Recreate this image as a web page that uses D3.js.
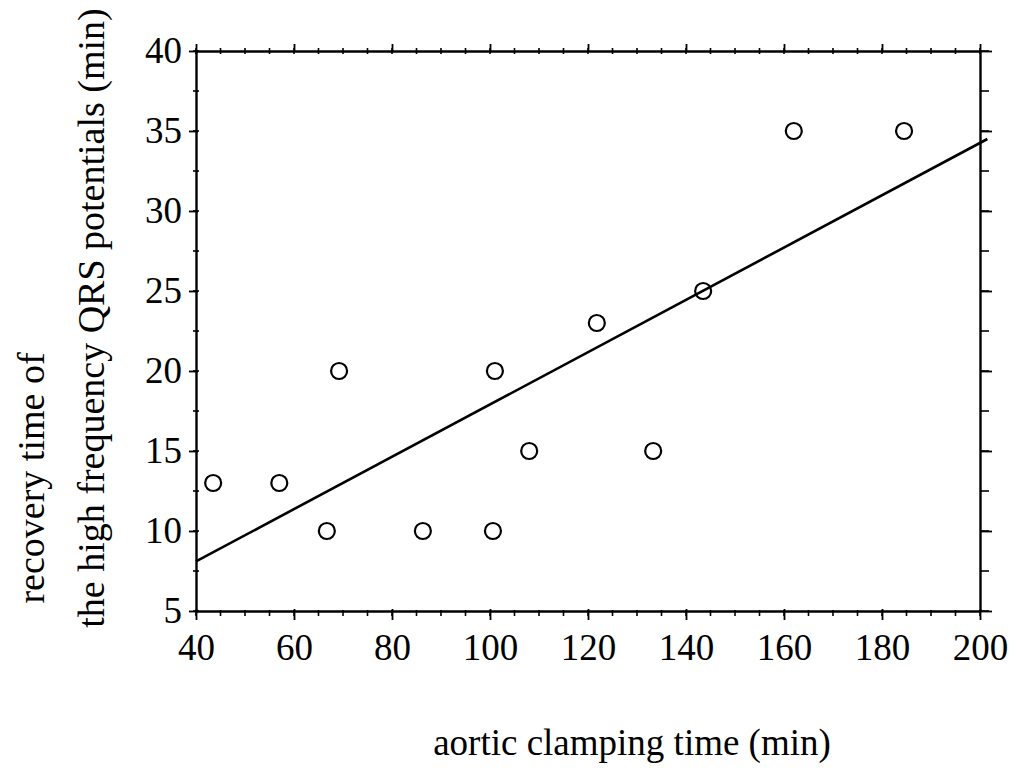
<!DOCTYPE html>
<html>
<head>
<meta charset="utf-8">
<script src="https://cdn.jsdelivr.net/npm/d3@7"></script>
<style>
  body { margin: 0; background: #fff; }
  svg { display: block; }
  svg text { font-family: "Liberation Serif", "Times New Roman", Times, serif; }
</style>
</head>
<body>
<div id="chart"></div>
<script>
// data
var clampTime = [43.5, 57, 66.7, 69.2, 86.3, 100.6, 101, 108, 121.8, 133.3, 143.5, 162, 184.5];
var recoveryTime = [13, 13, 10, 20, 10, 10, 20, 15, 23, 15, 25, 35, 35];
var fitX = [40, 201.5];
var fitY = [8.1, 34.5];
var xTicks = [40, 60, 80, 100, 120, 140, 160, 180, 200];
var yTicks = [5, 10, 15, 20, 25, 30, 35, 40];

var margin = {top: 51, right: 42, bottom: 162, left: 196},
    width = 1022 - margin.left - margin.right,
    height = 773 - margin.top - margin.bottom;

var svg = d3.select("#chart").append("svg")
    .attr("width", 1022)
    .attr("height", 773);

var g = svg.append("g")
    .attr("transform", `translate(${margin.left},${margin.top})`);

var x = d3.scaleLinear().domain([40, 200]).range([0, width]);
var y = d3.scaleLinear().domain([5, 40]).range([height, 0]);

var xMinor = d3.range(40, 201, 5);
var yMinor = d3.range(5, 40.1, 2.5);

//minor ticks
g.selectAll(".xminor-b").data(xMinor).enter().append("line")
    .attr("x1", d => x(d)).attr("x2", d => x(d))
    .attr("y1", height - 1).attr("y2", height + 5)
    .attr("stroke", "#000").attr("stroke-width", 1.6);
g.selectAll(".xminor-t").data(xMinor).enter().append("line")
    .attr("x1", d => x(d)).attr("x2", d => x(d))
    .attr("y1", -3).attr("y2", 3)
    .attr("stroke", "#000").attr("stroke-width", 1.6);
g.selectAll(".yminor-l").data(yMinor).enter().append("line")
    .attr("x1", -3).attr("x2", 3)
    .attr("y1", d => y(d)).attr("y2", d => y(d))
    .attr("stroke", "#000").attr("stroke-width", 1.6);
g.selectAll(".yminor-r").data(yMinor).enter().append("line")
    .attr("x1", width).attr("x2", width + 9)
    .attr("y1", d => y(d)).attr("y2", d => y(d))
    .attr("stroke", "#000").attr("stroke-width", 1.6);

//axes
var xAxis = g.append("g")
    .attr("transform", `translate(0,${height})`)
    .call(d3.axisBottom(x).tickValues(xTicks).tickSize(9).tickPadding(14).tickSizeOuter(0));
var yAxis = g.append("g")
    .call(d3.axisLeft(y).tickValues(yTicks).tickSize(7).tickPadding(7).tickSizeOuter(0));
var xTop = g.append("g")
    .call(d3.axisTop(x).tickValues(xTicks).tickSize(7).tickFormat("").tickSizeOuter(0));
var yRight = g.append("g")
    .attr("transform", `translate(${width},0)`)
    .call(d3.axisRight(y).tickValues(yTicks).tickSize(12).tickFormat("").tickSizeOuter(0));

[xAxis, yAxis, xTop, yRight].forEach(function(a){
    a.attr("font-size", null).attr("font-family", null);
    a.select(".domain").attr("stroke", "#000").attr("stroke-width", 2.4);
    a.selectAll(".tick line").attr("stroke", "#000").attr("stroke-width", 1.8);
    a.selectAll("text")
        .attr("fill", "#000")
        .attr("font-size", 37);
});
xAxis.selectAll(".tick line").attr("y1", -2);
yAxis.selectAll(".tick line").attr("x1", 2);

//regression line
g.append("path")
    .datum(d3.zip(fitX, fitY))
    .attr("fill", "none")
    .attr("stroke", "#000")
    .attr("stroke-width", 2.6)
    .attr("d", d3.line().x(d => x(d[0])).y(d => y(d[1])));

//points
g.selectAll(".pt").data(d3.zip(clampTime, recoveryTime)).enter().append("circle")
    .attr("class", "pt")
    .attr("cx", d => x(d[0]))
    .attr("cy", d => y(d[1]))
    .attr("r", 8)
    .attr("fill", "none")
    .attr("stroke", "#000")
    .attr("stroke-width", 2.2);

//titles
svg.append("text")
    .attr("x", 632).attr("y", 755)
    .attr("text-anchor", "middle")
    .attr("font-size", 37)
    .text("aortic clamping time (min)");

svg.append("text")
    .attr("transform", "translate(44,478) rotate(-90)")
    .attr("text-anchor", "middle")
    .attr("font-size", 38)
    .text("recovery time of");

svg.append("text")
    .attr("transform", "translate(104,318) rotate(-90)")
    .attr("text-anchor", "middle")
    .attr("font-size", 38)
    .text("the high frequency QRS potentials (min)");
</script>
</body>
</html>
